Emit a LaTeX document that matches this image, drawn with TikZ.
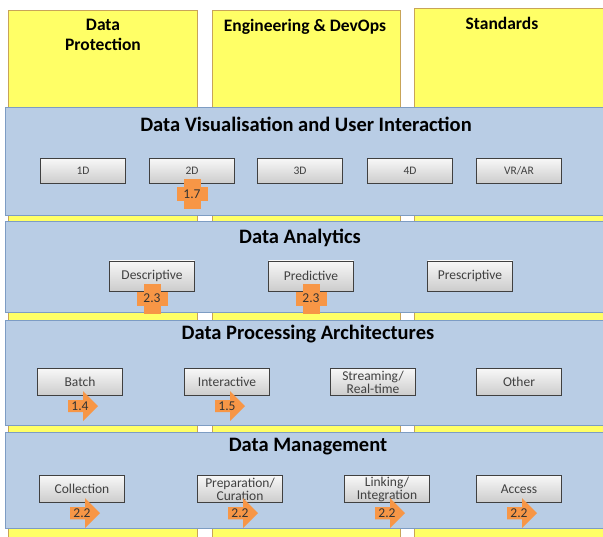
\documentclass[tikz,border=0pt]{standalone}
\usepackage{fontspec}
\setmainfont{Carlito}
\usepackage{tikz}
\usetikzlibrary{positioning, shapes.arrows}

\definecolor{padyellow}{HTML}{FFFF66}
\definecolor{padedge}{HTML}{C8A458}
\definecolor{bandblue}{HTML}{B9CDE5}
\definecolor{bandedge}{HTML}{7D9CC4}
\definecolor{tagorange}{HTML}{F79646}

\begin{document}
\begin{tikzpicture}[x=1pt,y=-1pt,
  pad/.style={draw=padedge,fill=padyellow,line width=0.9pt},
  band/.style={draw=bandedge,fill=bandblue,line width=0.7pt},
  padtitle/.style={font=\fontsize{17.5}{20}\selectfont\bfseries,align=center},
  bandtitle/.style={font=\fontsize{20.5}{22}\selectfont\bfseries},
  item/.style={draw=black!75,line width=0.8pt,top color=gray!6,bottom color=gray!40,
    minimum width=85pt,minimum height=27pt,inner sep=1pt,align=center,
    text=black!75,font=\fontsize{13.5}{13}\selectfont},
  smallitem/.style={item,minimum height=25pt,font=\fontsize{11.5}{11}\selectfont},
  crossbar/.style={fill=tagorange,minimum width=17pt,minimum height=30pt,inner sep=0pt},
  crosstag/.style={fill=tagorange,minimum width=31pt,minimum height=14pt,inner sep=0pt,
    font=\fontsize{13.5}{13}\selectfont,text=black!80},
  arrowtag/.style={single arrow,fill=tagorange,minimum height=30pt,minimum width=30pt,
    single arrow head extend=7.5pt,inner sep=0.5pt,font=\fontsize{13.5}{13}\selectfont,text=black!80}]
\useasboundingbox (0,0) rectangle (603,537);

% cross-cutting columns
\draw[pad] (8,10) rectangle (197,540);
\draw[pad] (212,10) rectangle (400,540);
\draw[pad] (414,8) rectangle (608,540);
\node[padtitle,anchor=north] (protect) at (103,16) {Data\\Protection};
\node[padtitle,anchor=north] (devops) at (305,16) {Engineering \& DevOps};
\node[padtitle,anchor=north] (stds) at (502,14) {Standards};

% layers
\draw[band] (5,107) rectangle (608,215);
\draw[band] (5,221) rectangle (608,312);
\draw[band] (5,320) rectangle (608,425);
\draw[band] (5,432) rectangle (608,528);
\node[bandtitle] (vis) at (306,124) {Data Visualisation and User Interaction};
\node[bandtitle] (ana) at (300,238) {Data Analytics};
\node[bandtitle] (proc) at (308,334) {Data Processing Architectures};
\node[bandtitle] (mgmt) at (308,447) {Data Management};

% visualisation
\node[smallitem] (b1d) at (83,171) {1D};
\node[smallitem] (b2d) at (192,171) {2D};
\node[smallitem] (b3d) at (300,171) {3D};
\node[smallitem] (b4d) at (410,171) {4D};
\node[smallitem] (bvr) at (519,171) {VR/AR};

% analytics
\node[item,minimum height=30pt] (desc) at (152,276) {Descriptive};
\node[item,minimum height=30pt] (pred) at (311,276) {Predictive};
\node[item,minimum height=30pt] (presc) at (470,276) {Prescriptive};

% processing
\node[item] (batch) at (80,382) {Batch};
\node[item] (inter) at (227,382) {Interactive};
\node[item] (stream) at (373,382) {Streaming/\\Real-time};
\node[item] (other) at (519,382) {Other};

% management
\node[item] (coll) at (82,489) {Collection};
\node[item] (prep) at (240,489) {Preparation/\\Curation};
\node[item] (link) at (387,489) {Linking/\\Integration};
\node[item] (acc) at (519,489) {Access};

% section tags
\node[crossbar,below=-5pt of b2d] (c17) {};
\node[crosstag] (t17) at (c17) {1.7};
\node[crossbar,below=-8pt of desc] (c23a) {};
\node[crosstag] (t23a) at (c23a) {2.3};
\node[crossbar,below=-8pt of pred] (c23b) {};
\node[crosstag] (t23b) at (c23b) {2.3};

\node[arrowtag,below=4pt of batch] (t14) {1.4};
\node[arrowtag,below=4pt of inter] (t15) {1.5};
\node[arrowtag,below=4pt of coll] (t22a) {2.2};
\node[arrowtag,below=4pt of prep] (t22b) {2.2};
\node[arrowtag,below=4pt of link] (t22c) {2.2};
\node[arrowtag,below=4pt of acc] (t22d) {2.2};
\end{tikzpicture}
\end{document}
